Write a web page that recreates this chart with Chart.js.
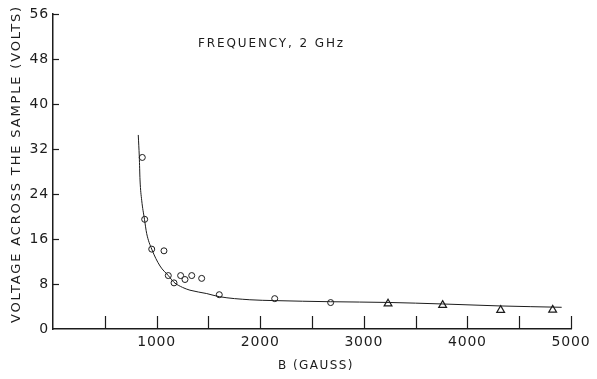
<!DOCTYPE html>
<html>
<head>
<meta charset="utf-8">
<script src="https://cdn.jsdelivr.net/npm/chart.js@4.4.1/dist/chart.umd.min.js"></script>
<style>
    html, body { margin: 0; padding: 0; background: #fff; }
    #caja { width: 597px; height: 379px; }
</style>
</head>
<body>
<div id="caja"><canvas id="graficoVoltaje"></canvas></div>
<script>
// datos
const curvaB = [823, 833, 840, 856, 883, 904, 953, 1033, 1113, 1168, 1250, 1322, 1484, 1605, 1900, 2140, 2680, 3234, 3761, 4315, 4910];
const curvaV = [34.5, 30.6, 26.5, 22.9, 19.5, 17.0, 14.2, 11.2, 9.5, 8.3, 7.4, 6.9, 6.3, 5.75, 5.2, 5.05, 4.85, 4.72, 4.45, 4.1, 3.86];
const circulosB = [862, 885, 953, 1071, 1113, 1168, 1232, 1274, 1339, 1435, 1605, 2140, 2680];
const circulosV = [30.5, 19.5, 14.2, 13.9, 9.5, 8.2, 9.5, 8.8, 9.5, 9.0, 6.1, 5.4, 4.7];
const triangulosB = [3234, 3761, 4321, 4823];
const triangulosV = [4.5, 4.25, 3.35, 3.4];
const marcasB = [500, 1000, 1500, 2000, 2500, 3000, 3500, 4000, 4500, 5000];
const marcasV = [8, 16, 24, 32, 40, 48, 56];

const tinta = '#1c1c1c';
const fuente = 'DejaVu Sans';

Chart.defaults.font.family = fuente;
Chart.defaults.font.size = 14;
Chart.defaults.color = tinta;

const puntos = (xs, ys) => xs.map((b, i) => ({ x: b, y: ys[i] }));

// texto con espaciado para llenar un ancho dado
function textoEspaciado(ctx, texto, x, y, ancho, tam) {
    ctx.font = tam + 'px "' + fuente + '"';
    ctx.letterSpacing = '0px';
    const w = ctx.measureText(texto).width;
    ctx.letterSpacing = ((ancho - w) / texto.length) + 'px';
    ctx.textAlign = 'left';
    ctx.textBaseline = 'middle';
    ctx.fillText(texto, x, y);
}

const ejesPlugin = {
    id: 'ejesPlugin',
    beforeDraw(chart) {
        chart.ctx.letterSpacing = '0.8px';
    },
    afterDraw(chart) {
        const { ctx, scales: { x, y } } = chart;
        ctx.save();
        ctx.strokeStyle = tinta;
        ctx.lineWidth = 1.2;
        // marcas hacia dentro
        marcasB.forEach(v => {
            const px = Math.round(x.getPixelForValue(v)) + 0.5;
            ctx.beginPath();
            ctx.moveTo(px, y.bottom);
            ctx.lineTo(px, y.bottom - 13);
            ctx.stroke();
        });
        marcasV.forEach(v => {
            const py = Math.round(y.getPixelForValue(v)) + 0.5;
            ctx.beginPath();
            ctx.moveTo(x.left, py);
            ctx.lineTo(x.left + 6, py);
            ctx.stroke();
        });
        ctx.fillStyle = tinta;
        textoEspaciado(ctx, 'FREQUENCY, 2 GHz', 198, 44, 147, 12);
        textoEspaciado(ctx, 'B (GAUSS)', 278, 366, 76, 12);
        ctx.translate(17, 323);
        ctx.rotate(-Math.PI / 2);
        textoEspaciado(ctx, 'VOLTAGE ACROSS THE SAMPLE (VOLTS)', 0, 0, 318, 13);
        ctx.restore();
    }
};

new Chart(document.getElementById('graficoVoltaje'), {
    type: 'scatter',
    data: {
        datasets: [{
            label: 'curva',
            data: puntos(curvaB, curvaV),
            showLine: true,
            borderColor: tinta,
            borderWidth: 1,
            pointRadius: 0,
            cubicInterpolationMode: 'monotone'
        }, {
            label: 'circulos',
            data: puntos(circulosB, circulosV),
            pointStyle: 'circle',
            pointRadius: 3,
            backgroundColor: '#fff',
            borderColor: tinta,
            borderWidth: 1
        }, {
            label: 'triangulos',
            data: puntos(triangulosB, triangulosV),
            pointStyle: 'triangle',
            pointRadius: 4.5,
            backgroundColor: '#fff',
            borderColor: tinta,
            borderWidth: 1.2
        }]
    },
    options: {
        responsive: true,
        maintainAspectRatio: false,
        animation: false,
        layout: {
            padding: { left: 0, right: 26, top: 14, bottom: 0 }
        },
        plugins: {
            legend: { display: false },
            tooltip: { enabled: false }
        },
        scales: {
            x: {
                type: 'linear',
                min: 0,
                max: 5000,
                afterFit: (s) => { s.height = 50; },
                grid: { display: true, drawOnChartArea: false, drawTicks: false },
                border: { color: tinta, width: 1.5 },
                ticks: {
                    stepSize: 1000,
                    padding: 5,
                    maxRotation: 0,
                    color: tinta,
                    font: { family: fuente, size: 14 },
                    callback: (v) => v === 0 ? '' : String(v)
                }
            },
            y: {
                min: 0,
                max: 56,
                afterFit: (s) => { s.width = 53; },
                grid: { display: true, drawOnChartArea: false, drawTicks: false },
                border: { color: tinta, width: 1.5 },
                ticks: {
                    stepSize: 8,
                    padding: 4,
                    color: tinta,
                    font: { family: fuente, size: 14 }
                }
            }
        }
    },
    plugins: [ejesPlugin]
});
</script>
</body>
</html>
